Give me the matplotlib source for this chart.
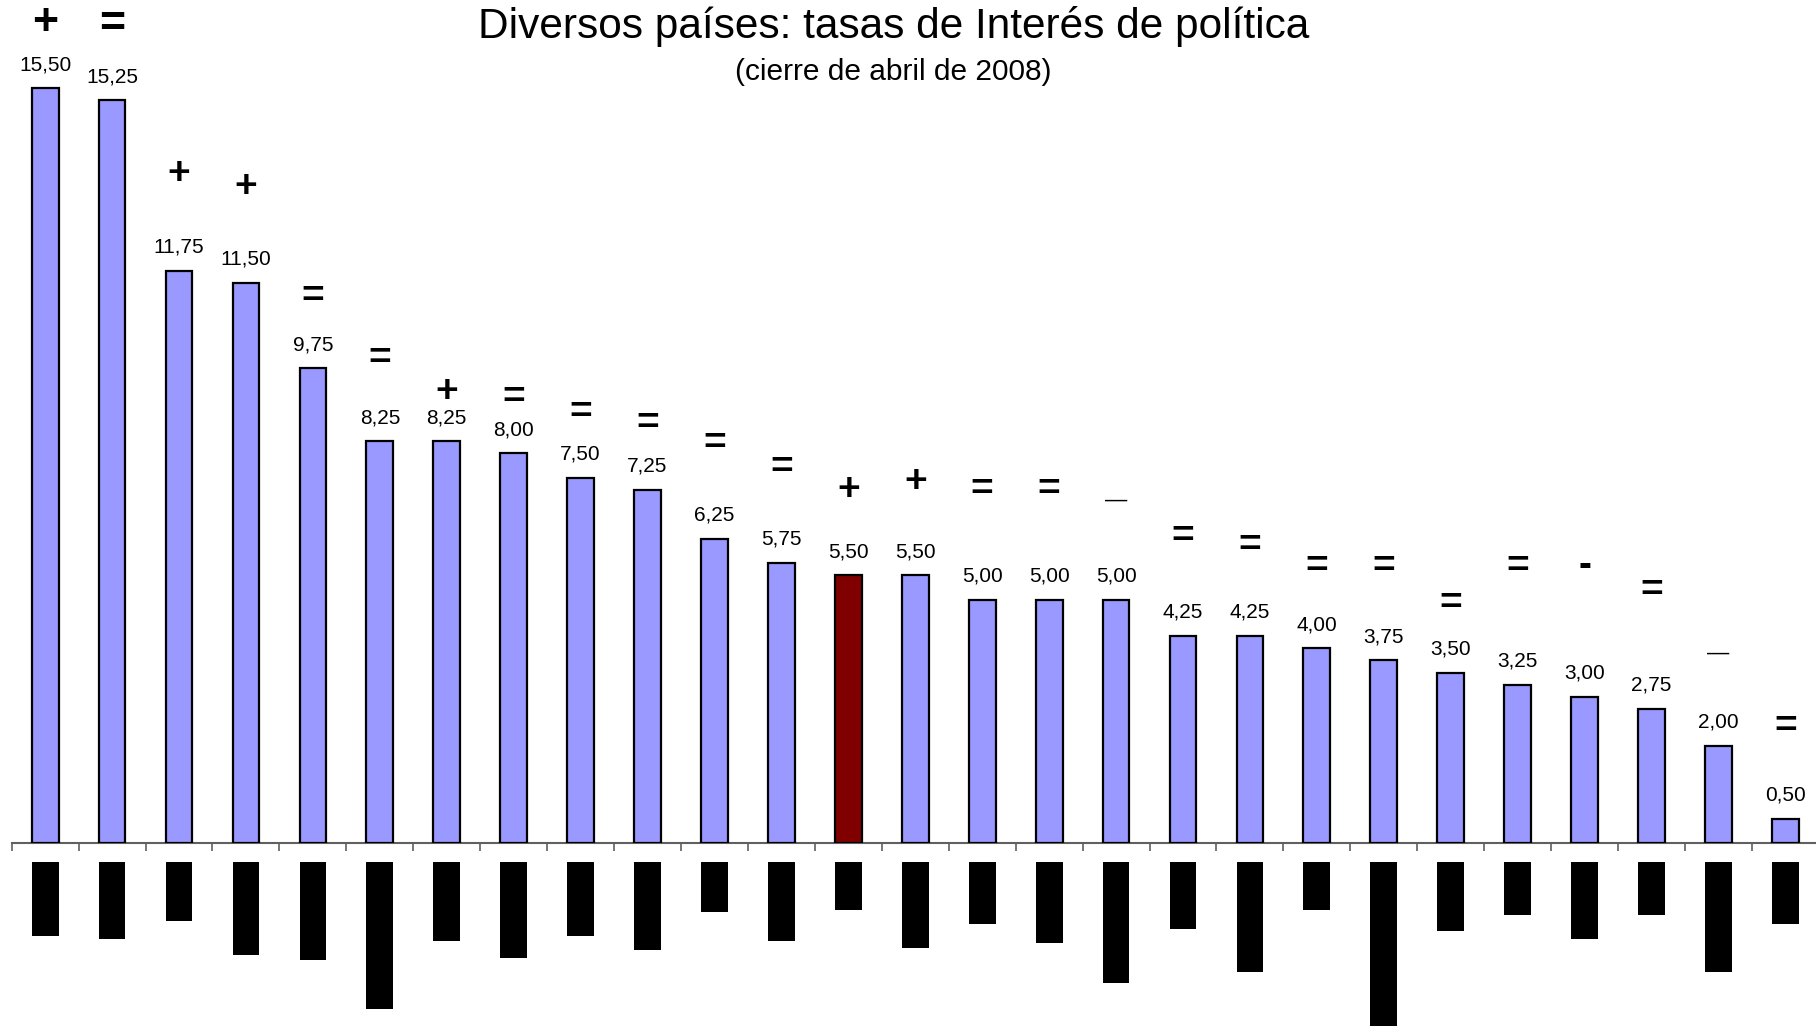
import matplotlib
matplotlib.use("Agg")
from matplotlib import pyplot as plt
import numpy as np

plt.rcParams['font.family'] = ['Liberation Sans', 'DejaVu Sans']

# tasas de politica (cierre abril 2008), ordenadas de mayor a menor
rates = [15.50, 15.25, 11.75, 11.50, 9.75, 8.25, 8.25, 8.00, 7.50, 7.25, 6.25, 5.75,
         5.50, 5.50, 5.00, 5.00, 5.00, 4.25, 4.25, 4.00, 3.75, 3.50, 3.25, 3.00,
         2.75, 2.00, 0.50]
highlight = 12  # el pais destacado (barra roja)

# cambio respecto al mes anterior y altura a la que se escribe el signo
signs = ['+', '=', '+', '+', '=', '=', '+', '=', '=', '=', '=', '=',
         '+', '+', '=', '=', '\u2014', '=', '=', '=', '=', '=', '=', '-',
         '=', '\u2014', '=']
sign_y = [16.83, 16.81, 13.74, 13.48, 11.22, 9.94, 9.27, 9.13, 8.82, 8.61, 8.20, 7.70,
          7.25, 7.42, 7.25, 7.25, 7.04, 6.28, 6.09, 5.66, 5.66, 4.90, 5.66, 5.68,
          5.18, 3.90, 2.38]

# nombres de paises tachados en el original: solo el largo de cada bloque negro
label_len = [64, 67, 51, 81, 85, 127, 69, 83, 64, 76, 44, 69, 42, 75, 54, 70, 105,
             58, 95, 42, 150, 60, 46, 67, 46, 95, 54]

W, H = 1816, 1026
fig = plt.figure(figsize=(W / 100, H / 100), dpi=100)

x = np.arange(len(rates))
left = 11.7 / W
width = 27 * 57.8 * 1.158 / W
bottom = 183 / H
ax = fig.add_axes([left, bottom, width, 17 * 48.7 / H])

colors = ['#9999FF'] * len(rates)
colors[highlight] = '#800000'
ax.bar(x, rates, width=0.4, color=colors, edgecolor='black', linewidth=1.6, zorder=3)

for i, v in enumerate(rates):
    ax.annotate(f"{v:.2f}".replace('.', ','), (i, v), xytext=(0, 17),
                textcoords='offset points', ha='center', va='center', fontsize=15)

for i, (s, y) in enumerate(zip(signs, sign_y)):
    if s == '\u2014':
        ax.text(i, y, s, ha='center', va='center', fontsize=16)
    else:
        fs = 32 if i < 2 else 28
        ax.text(i, y, s, ha='center', va='center', fontsize=fs, fontweight='bold')

ax.set_xlim(-0.5, len(rates) - 0.5)
ax.set_ylim(0, 17)
for side in ['top', 'right', 'left']:
    ax.spines[side].set_visible(False)
ax.spines['bottom'].set_color('#606060')
ax.spines['bottom'].set_linewidth(1.5)
ax.set_yticks([])
ax.set_xticks(np.arange(len(rates) + 1) - 0.5)
ax.set_xticklabels([])
ax.tick_params(axis='x', direction='out', length=6, width=1.2, color='#606060')

# bloques negros de las etiquetas
ax2 = fig.add_axes([left, 0, width, (H - 861.5) / H])
ax2.bar(x, label_len, width=0.4, color='black', linewidth=0)
ax2.set_xlim(-0.5, len(rates) - 0.5)
ax2.set_ylim(142, 0)
ax2.axis('off')

fig.text(0.492, 0.974, "Diversos países: tasas de Interés de política",
         ha='center', va='center', fontsize=30.5)
fig.text(0.492, 0.930, "(cierre de abril de 2008)", ha='center', va='center', fontsize=21.5)

fig.savefig("out.png", dpi=100)
